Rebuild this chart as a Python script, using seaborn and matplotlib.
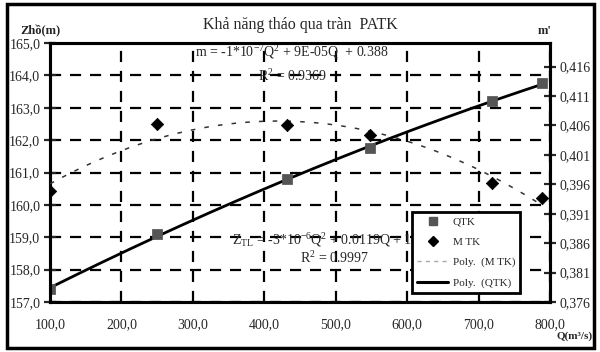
import numpy as np
import pandas as pd
import matplotlib
matplotlib.use("Agg")
import matplotlib.pyplot as plt
import seaborn as sns
from matplotlib.lines import Line2D
from matplotlib.patches import Rectangle

# ---- data ----
Q = [100, 250, 432, 548, 719, 789]
Z_QTK = [157.4, 159.1, 160.8, 161.75, 163.2, 163.75]
M_TK = [0.3948, 0.4063, 0.4060, 0.4043, 0.3963, 0.3936]
x_ticks = [100, 200, 300, 400, 500, 600, 700, 800]
z_ticks = [157, 158, 159, 160, 161, 162, 163, 164, 165]
m_ticks = [0.376, 0.381, 0.386, 0.391, 0.396, 0.401, 0.406, 0.411, 0.416]
title = "Khả năng tháo qua tràn  PATK"
eq_m = r"m = -1*10$^{-7}$Q$^{2}$ + 9E-05Q  + 0.388"
r2_m = r"R$^{2}$ = 0.9369"
eq_z = r"Z$_{TL}$ = -3*10$^{-6}$Q$^{2}$ + 0.0119Q + 156.2"
r2_z = r"R$^{2}$ = 0.9997"

sns.set_style("white")
plt.rcParams["font.family"] = ["Liberation Serif", "DejaVu Serif"]
plt.rcParams["mathtext.fontset"] = "custom"
plt.rcParams["mathtext.rm"] = "Liberation Serif"
plt.rcParams["mathtext.it"] = "Liberation Serif"

df = pd.DataFrame({"Q": Q, "Z": Z_QTK, "m": M_TK})
qq = np.linspace(min(Q), max(Q), 300)
cz = np.polyfit(Q, Z_QTK, 2)
cm = np.polyfit(Q, M_TK, 2)
trend = pd.DataFrame({"Q": qq, "Z": np.polyval(cz, qq), "m": np.polyval(cm, qq)})

fig = plt.figure(figsize=(6.0, 3.52), dpi=100)
ax = fig.add_axes([50/600, 1-302/352, 500/600, 259/352])
ax2 = ax.twinx()

# left axis: QTK
sns.lineplot(data=trend, x="Q", y="Z", ax=ax, color="black", lw=2.0, zorder=3)
sns.scatterplot(data=df, x="Q", y="Z", ax=ax, marker="s", s=45, color="#555555",
                edgecolor="#555555", zorder=4)
# right axis: MTK
sns.lineplot(data=trend, x="Q", y="m", ax=ax2, color="#333333", lw=1.1,
             linestyle=(0, (3, 6)), zorder=3)
sns.scatterplot(data=df, x="Q", y="m", ax=ax2, marker="D", s=40, color="black",
                edgecolor="black", zorder=4)

ax.set_xlim(100, 800)
ax.set_ylim(157, 165)
ax2.set_ylim(0.376, 0.420)
ax.set_xticks(x_ticks)
ax.set_xticklabels([f"{v:.1f}".replace(".", ",") for v in x_ticks])
ax.set_yticks(z_ticks)
ax.set_yticklabels([f"{v:.1f}".replace(".", ",") for v in z_ticks])
ax2.set_yticks(m_ticks)
ax2.set_yticklabels([f"{v:.3f}".replace(".", ",") for v in m_ticks])
ax.set_xlabel("")
ax.set_ylabel("")
ax2.set_ylabel("")

ax.grid(True, color="black", linestyle=(0, (5, 4)), linewidth=1.6)
ax.set_axisbelow(True)
for a in (ax, ax2):
    for s in a.spines.values():
        s.set_linewidth(2.2)
        s.set_color("black")
    a.tick_params(direction="inout", length=8, width=1.6, labelsize=10, pad=3)
ax.tick_params(axis="x", pad=8)

ax.text(439, 164.72, eq_m, ha="center", va="center", fontsize=10)
ax.text(439, 163.97, r2_m, ha="center", va="center", fontsize=10)
ax.text(355, 158.9, eq_z, ha="left", va="center", fontsize=10, zorder=1)
ax.text(499, 158.36, r2_z, ha="center", va="center", fontsize=10)

handles = [
    Line2D([], [], marker="s", color="#555555", linestyle="none", markersize=6),
    Line2D([], [], marker="D", color="black", linestyle="none", markersize=5),
    Line2D([], [], color="#aaaaaa", lw=1.0, linestyle=(0, (3, 3))),
    Line2D([], [], color="black", lw=2.2),
]
labels = ["QTK", "M TK", "Poly.  (M TK)", "Poly.  (QTK)"]
leg = ax2.legend(handles, labels, loc="lower left", bbox_to_anchor=(0.724, 0.035),
                 fontsize=8, frameon=True, fancybox=False, framealpha=1,
                 edgecolor="black", borderpad=0.45, labelspacing=0.95,
                 handlelength=2.8, handletextpad=0.4, borderaxespad=0)
leg.get_frame().set_linewidth(2.0)
leg.set_zorder(10)

fig.text(300/600, 1-25/352, title, ha="center", va="center", fontsize=11.5)
fig.text(20/600, 1-31/352, "Zhồ(m)", ha="left", va="center", fontsize=9, fontweight="bold")
fig.text(545/600, 1-31/352, "m'", ha="center", va="center", fontsize=9, fontweight="bold")
fig.text(593/600, 1-336/352, "Q(m³/s)", ha="right", va="center", fontsize=8, fontweight="bold")

fig.patches.append(Rectangle((7/600, 4/352), 587/600, 344/352, transform=fig.transFigure,
                             fill=False, edgecolor="black", linewidth=2.5))

fig.savefig("out.png", dpi=100)
